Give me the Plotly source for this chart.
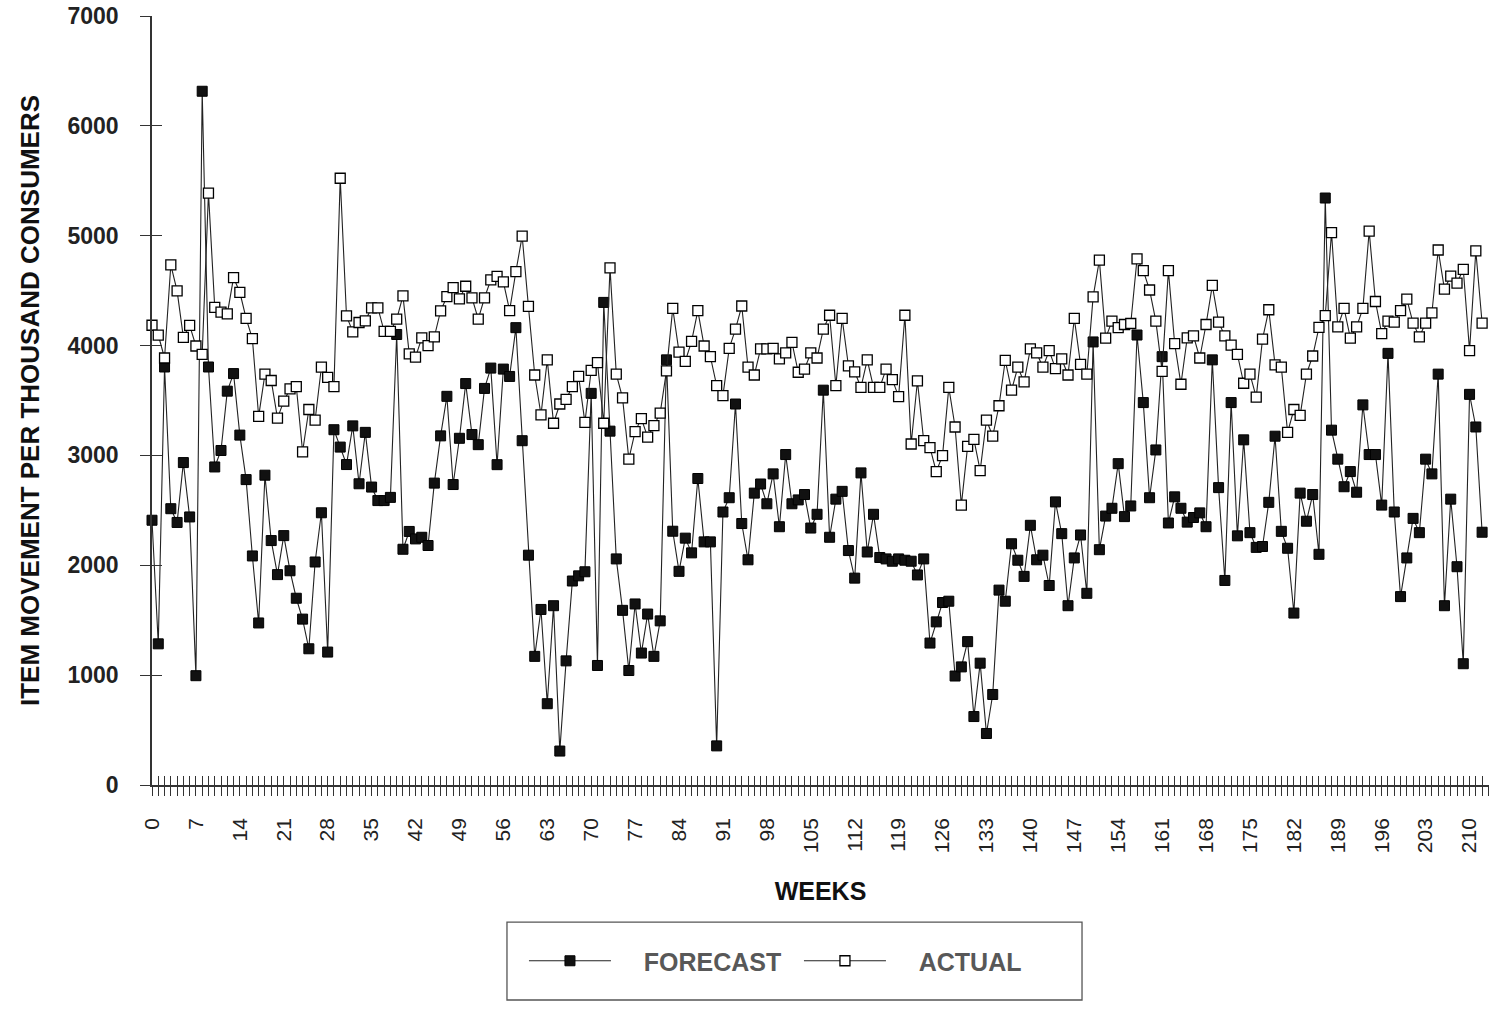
import plotly.graph_objects as go

# Weekly item movement per thousand consumers: forecast vs actual
weeks = list(range(213))

forecast = [
    2410, 1285, 3805, 2515, 2390, 2935, 2440, 995, 6315, 3805,
    2895, 3045, 3585, 3745, 3185, 2780, 2085, 1475, 2820, 2225,
    1915, 2270, 1950, 1700, 1510, 1240, 2030, 2478, 1210, 3234,
    3076, 2917, 3269, 2742, 3210, 2712, 2589, 2589, 2618, 4101,
    2146, 2308, 2240, 2255, 2180, 2748, 3178, 3538, 2735, 3156,
    3654, 3190, 3098, 3610, 3795, 2916, 3786, 3719, 4163, 3134,
    2092, 1171, 1598, 740, 1632, 309, 1130, 1857, 1904, 1941,
    3565, 1088, 4393, 3221, 2058, 1590, 1042, 1648, 1201, 1556,
    1171, 1494, 3870, 2310, 1945, 2247, 2113, 2790, 2213, 2213,
    356, 2485, 2615, 3468, 2380, 2050, 2657, 2740, 2560, 2832,
    2351, 3008, 2560, 2595, 2644, 2339, 2464, 3594, 2255, 2602,
    2673, 2134, 1883, 2841, 2121, 2464, 2071, 2058, 2037, 2058,
    2046, 2037, 1912, 2058, 1292, 1485, 1661, 1673, 992, 1075,
    1305, 623, 1109, 469, 824, 1774, 1673, 2196, 2046, 1899,
    2364, 2050, 2092, 1816, 2577, 2288, 1632, 2067, 2276, 1745,
    4033, 2142, 2448, 2519, 2925, 2443, 2540, 4096, 3481, 2615,
    3050, 3899, 2385, 2623, 2519, 2393, 2435, 2477, 2351, 3870,
    2707, 1862, 3481, 2268, 3142, 2297, 2163, 2171, 2573, 3175,
    2309, 2155, 1565, 2657, 2401, 2644, 2100, 5343, 3230, 2966,
    2715, 2853, 2665, 3460, 3008, 3008, 2548, 3929, 2485, 1715,
    2067, 2427, 2297, 2966, 2832, 3740, 1632, 2602, 1987, 1104,
    3556, 3259, 2301,
]

actual = [
    4185, 4096, 3887, 4735, 4498, 4075, 4184, 3996, 3920, 5388,
    4347, 4305, 4288, 4618, 4485, 4247, 4063, 3355, 3740, 3682,
    3340, 3494, 3606, 3627, 3033, 3418, 3322, 3803, 3711, 3627,
    5523, 4270, 4125, 4210, 4225, 4343, 4343, 4130, 4130, 4240,
    4452, 3925, 3895, 4070, 4000, 4080, 4315, 4445, 4528, 4425,
    4540, 4435, 4240, 4435, 4598, 4630, 4580, 4318, 4674, 4996,
    4356, 3732, 3370, 3870, 3293, 3468, 3510, 3627, 3719, 3301,
    3774, 3845, 3293, 4707, 3740, 3523, 2966, 3217, 3335, 3167,
    3272, 3385, 3770, 4339, 3941, 3857, 4038, 4318, 3996, 3899,
    3636, 3544, 3975, 4150, 4360, 3803, 3732, 3970, 3970, 3975,
    3878, 3933, 4030, 3757, 3786, 3933, 3887, 4150, 4276, 3636,
    4247, 3816, 3761, 3619, 3870, 3619, 3619, 3786, 3690, 3535,
    4276, 3104, 3678, 3134, 3071, 2853, 2999, 3619, 3259, 2548,
    3083, 3146, 2862, 3322, 3175, 3452, 3866, 3594, 3803, 3669,
    3970, 3933, 3803, 3954, 3790, 3878, 3732, 4247, 3828, 3740,
    4443, 4778, 4067, 4222, 4163, 4192, 4201, 4790, 4682, 4506,
    4222, 3765, 4682, 4017, 3648, 4070, 4088, 3887, 4192, 4548,
    4213, 4088, 4004, 3920, 3657, 3740, 3531, 4059, 4326, 3824,
    3803, 3209, 3418, 3364, 3740, 3905, 4165, 4272, 5029, 4171,
    4339, 4067, 4171, 4339, 5042, 4401, 4109, 4222, 4213, 4318,
    4422, 4205, 4079, 4205, 4297, 4870, 4514, 4632, 4569, 4694,
    3954, 4862, 4205,
]

tick_weeks = list(range(0, 214))
tick_labels = [str(w) if w % 7 == 0 else "" for w in tick_weeks]
y_ticks = [0, 1000, 2000, 3000, 4000, 5000, 6000, 7000]

FONT = "Liberation Sans, Arial, sans-serif"
INK = "#222222"
X_RANGE = [0, 213.1]
Y_RANGE = [0, 7000]
PAD = "\u00a0\u00a0\u00a0\u00a0"

fig = go.Figure()

fig.add_trace(go.Scatter(
    x=weeks, y=forecast, name=PAD + "FORECAST", mode="lines+markers",
    line=dict(color=INK, width=1.1),
    marker=dict(symbol="square", size=10, color="#111111",
                line=dict(color="#000000", width=1)),
    cliponaxis=False,
))
fig.add_trace(go.Scatter(
    x=weeks, y=actual, name=PAD + "ACTUAL", mode="lines+markers",
    line=dict(color=INK, width=1.1),
    marker=dict(symbol="square", size=10, color="#ffffff",
                line=dict(color="#000000", width=1.3)),
    cliponaxis=False,
))
# helper trace that carries the inward half of the crossing tick marks
fig.add_trace(go.Scatter(x=[None], y=[None], xaxis="x2", yaxis="y2",
                         showlegend=False, hoverinfo="skip"))

# frame around the legend
fig.add_shape(type="rect", xref="paper", yref="paper",
              x0=0.2655, x1=0.6956, y0=-0.2796, y1=-0.1782,
              line=dict(color="#555555", width=1.3), fillcolor="rgba(0,0,0,0)")

fig.update_layout(
    width=1493, height=1009,
    margin=dict(l=152, r=4, t=16, b=224),
    paper_bgcolor="white", plot_bgcolor="white",
    font=dict(family=FONT, color="#222222"),
    showlegend=True,
    legend=dict(
        orientation="h", x=0.2782, xanchor="left", y=-0.2289, yanchor="middle",
        borderwidth=0, bgcolor="rgba(0,0,0,0)",
        font=dict(family=FONT, size=25, color="#585858", weight="bold"),
        entrywidth=178, itemwidth=82,
    ),
    xaxis=dict(
        range=X_RANGE, tickmode="array", tickvals=tick_weeks, ticktext=tick_labels,
        ticks="outside", ticklen=9, tickwidth=1, tickcolor="#333333",
        tickangle=-90, ticklabelstandoff=14,
        tickfont=dict(family=FONT, size=21, color="#222222"),
        showline=True, linecolor="#333333", linewidth=1.5,
        showgrid=False, zeroline=False,
        title=dict(text="WEEKS", standoff=30,
                   font=dict(family=FONT, size=25, color="#111111", weight="bold")),
    ),
    yaxis=dict(
        range=Y_RANGE, tickmode="array", tickvals=y_ticks,
        ticks="outside", ticklen=10, tickwidth=1.2, tickcolor="#333333",
        ticklabelstandoff=17,
        tickfont=dict(family=FONT, size=23, color="#222222", weight="bold"),
        showline=True, linecolor="#333333", linewidth=1.5,
        showgrid=False, zeroline=False,
        title=dict(text="ITEM MOVEMENT PER THOUSAND CONSUMERS", standoff=20,
                   font=dict(family=FONT, size=26, color="#111111", weight="bold")),
    ),
    xaxis2=dict(
        overlaying="x", anchor="y2", side="bottom", range=X_RANGE,
        tickmode="array", tickvals=tick_weeks, showticklabels=False,
        ticks="inside", ticklen=9, tickwidth=1, tickcolor="#333333",
        showline=False, showgrid=False, zeroline=False,
    ),
    yaxis2=dict(
        overlaying="y", anchor="x2", side="left", range=Y_RANGE,
        tickmode="array", tickvals=y_ticks, showticklabels=False,
        ticks="inside", ticklen=10, tickwidth=1.2, tickcolor="#333333",
        showline=False, showgrid=False, zeroline=False,
    ),
)

fig.write_html("out.html")
